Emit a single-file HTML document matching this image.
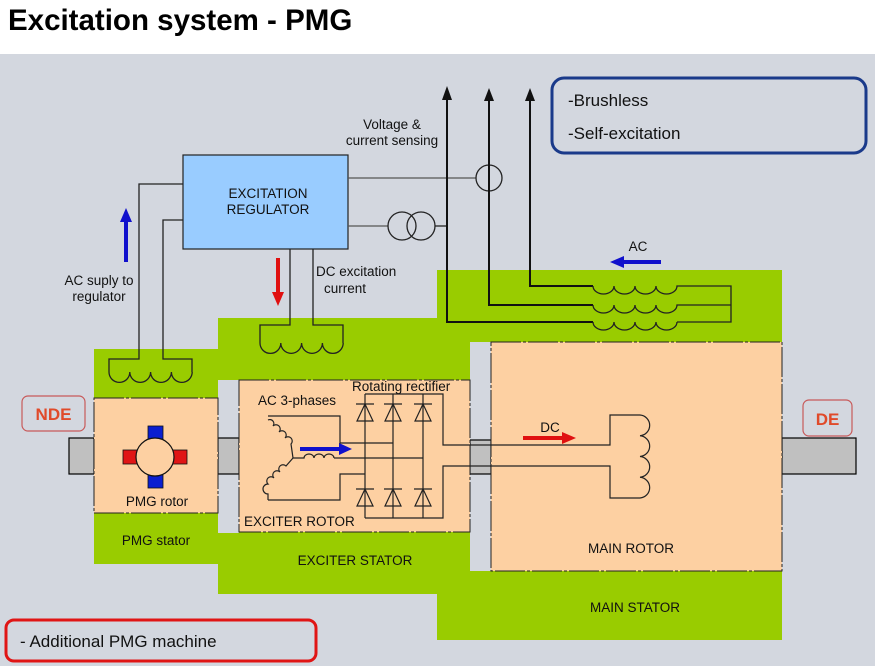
<!DOCTYPE html>
<html><head><meta charset="utf-8"><style>
html,body{margin:0;padding:0;background:#fff;}
svg{display:block;}
text{font-family:"Liberation Sans",Arial,sans-serif;}
</style></head><body>
<svg width="875" height="666" viewBox="0 0 875 666" xmlns="http://www.w3.org/2000/svg">
<rect x="0" y="0" width="875" height="666" fill="#fff"/>
<rect x="0" y="54" width="875" height="612" fill="#d3d7df"/>
<text x="8" y="30" font-size="29.5" font-weight="bold" fill="#000">Excitation system - PMG</text>

<!-- green stators -->
<rect x="94" y="349" width="124" height="215" fill="#99cc00"/>
<rect x="218" y="318" width="219" height="276" fill="#99cc00"/>
<rect x="437" y="270" width="345" height="370" fill="#99cc00"/>
<!-- gray gaps -->
<rect x="218" y="380" width="21" height="153" fill="#d3d7df"/>
<rect x="470" y="342" width="21" height="229" fill="#d3d7df"/>
<!-- shafts -->
<g fill="#c0c0c0" stroke="#000" stroke-width="1.2">
<rect x="69" y="438" width="25" height="36"/>
<rect x="218" y="438" width="21" height="36"/>
<rect x="470" y="440" width="21" height="34"/>
<rect x="782" y="438" width="74" height="36"/>
</g>
<!-- peach rotors -->
<g fill="#fdd0a2" stroke="#222" stroke-width="1" stroke-dasharray="30 2 3 2">
<rect x="94" y="398" width="124" height="115"/>
<rect x="239" y="380" width="231" height="152"/>
<rect x="491" y="342" width="291" height="229"/>
</g>

<!-- NDE / DE -->
<rect x="22" y="396" width="63" height="35" rx="6" fill="#d3d7df" stroke="#c85a5a" stroke-width="1.2"/>
<text x="53.5" y="420" font-size="17" font-weight="bold" fill="#e04a2a" text-anchor="middle">NDE</text>
<rect x="803" y="400" width="49" height="36" rx="6" fill="#d3d7df" stroke="#c85a5a" stroke-width="1.2"/>
<text x="827.5" y="425" font-size="17" font-weight="bold" fill="#e04a2a" text-anchor="middle">DE</text>

<!-- Regulator -->
<rect x="183" y="155" width="165" height="94" fill="#99ccff" stroke="#222" stroke-width="1.2"/>
<text x="268" y="198" font-size="13.5" text-anchor="middle" fill="#111">EXCITATION</text>
<text x="268" y="214" font-size="13.5" text-anchor="middle" fill="#111">REGULATOR</text>

<g fill="none" stroke="#222" stroke-width="1.3">
<polyline points="183,184 139,184 139,359 109,359 109,372"/>
<polyline points="183,220 163,220 163,359 192,359 192,372"/>
<path d="M109 372 a10.4 10.4 0 0 0 20.8 0 a10.4 10.4 0 0 0 20.8 0 a10.4 10.4 0 0 0 20.8 0 a10.4 10.4 0 0 0 20.8 0"/>
<polyline points="290,249 290,325 260,325 260,343"/>
<polyline points="313,249 313,325 343,325 343,343"/>
<path d="M260 343 a10.4 10.4 0 0 0 20.8 0 a10.4 10.4 0 0 0 20.8 0 a10.4 10.4 0 0 0 20.8 0 a10.4 10.4 0 0 0 20.8 0"/>
<line x1="348" y1="178" x2="476" y2="178" stroke="#555"/>
<circle cx="489" cy="178" r="13"/>
<line x1="348" y1="226" x2="388" y2="226" stroke="#555"/>
<circle cx="402" cy="226" r="14"/>
<circle cx="421" cy="226" r="14"/>
<line x1="435" y1="226" x2="447" y2="226"/>
</g>
<g fill="none" stroke="#111" stroke-width="2">
<polyline points="447,96 447,322 593,322"/>
<polyline points="489,98 489,305 593,305"/>
<polyline points="530,98 530,286 593,286"/>
</g>
<g fill="#111">
<polygon points="447,86 442,100 452,100"/>
<polygon points="489,88 484,101 494,101"/>
<polygon points="530,88 525,101 535,101"/>
</g>
<g fill="none" stroke="#222" stroke-width="1.3">
<path d="M593 286 a10.5 8 0 0 0 21 0 a10.5 8 0 0 0 21 0 a10.5 8 0 0 0 21 0 a10.5 8 0 0 0 21 0 L731 286 L731 322 L677 322"/>
<path d="M593 305 a10.5 8 0 0 0 21 0 a10.5 8 0 0 0 21 0 a10.5 8 0 0 0 21 0 a10.5 8 0 0 0 21 0 L731 305"/>
<path d="M593 322 a10.5 8 0 0 0 21 0 a10.5 8 0 0 0 21 0 a10.5 8 0 0 0 21 0 a10.5 8 0 0 0 21 0"/>
</g>

<!-- arrows -->
<line x1="126" y1="262" x2="126" y2="220" stroke="#1010cc" stroke-width="4"/>
<polygon points="126,208 120,222 132,222" fill="#1010cc"/>
<line x1="278" y1="258" x2="278" y2="293" stroke="#e01010" stroke-width="4"/>
<polygon points="278,306 272,292 284,292" fill="#e01010"/>
<line x1="661" y1="262" x2="622" y2="262" stroke="#1010cc" stroke-width="4"/>
<polygon points="610,262 624,256 624,268" fill="#1010cc"/>
<line x1="523" y1="438" x2="563" y2="438" stroke="#e01010" stroke-width="4"/>
<polygon points="576,438 562,432 562,444" fill="#e01010"/>
<line x1="300" y1="449" x2="340" y2="449" stroke="#1010cc" stroke-width="4"/>
<polygon points="352,449 339,443 339,455" fill="#1010cc"/>

<g font-size="13.5" fill="#111">
<text x="392" y="129" text-anchor="middle">Voltage &amp;</text>
<text x="392" y="145" text-anchor="middle">current sensing</text>
<text x="99" y="285" text-anchor="middle">AC suply to</text>
<text x="99" y="301" text-anchor="middle">regulator</text>
<text x="316" y="276">DC excitation</text>
<text x="345" y="293" text-anchor="middle">current</text>
<text x="638" y="251" text-anchor="middle">AC</text>
<text x="550" y="432" text-anchor="middle">DC</text>
<text x="157" y="506" text-anchor="middle">PMG rotor</text>
<text x="156" y="545" text-anchor="middle">PMG stator</text>
<text x="355" y="565" text-anchor="middle">EXCITER STATOR</text>
<text x="631" y="553" text-anchor="middle">MAIN ROTOR</text>
<text x="635" y="612" text-anchor="middle">MAIN STATOR</text>
<text x="244" y="526">EXCITER ROTOR</text>
<text x="258" y="405">AC 3-phases</text>
<text x="352" y="391">Rotating rectifier</text>
</g>

<rect x="148" y="426" width="15" height="13" fill="#0a1ed0" stroke="#111" stroke-width="0.8"/>
<rect x="148" y="475" width="15" height="13" fill="#0a1ed0" stroke="#111" stroke-width="0.8"/>
<rect x="123" y="450" width="14" height="14" fill="#e01515" stroke="#111" stroke-width="0.8"/>
<rect x="173" y="450" width="14" height="14" fill="#e01515" stroke="#111" stroke-width="0.8"/>
<circle cx="155" cy="457" r="19" fill="#fdd0a2" stroke="#111" stroke-width="1.2"/>

<g fill="none" stroke="#222" stroke-width="1.2">
<polyline points="268,416 340,416 340,443 393,443"/>
<polyline points="268,500 340,500 340,474 365,474"/>
<polyline points="334,458 423,458"/>
<path d="M268 420 a4 4 0 0 1 5 6 a4 4 0 0 1 6 6 a4 4 0 0 1 6 6 a4 4 0 0 1 6 6 L293 458"/>
<path d="M293 458 L286 466 a4 4 0 0 0 -6 6 a4 4 0 0 0 -6 6 a4 4 0 0 0 -6 6 a4 4 0 0 0 0 10 L268 500"/>
<path d="M293 458 L304 458 a5 4 0 0 1 10 0 a5 4 0 0 1 10 0 a5 4 0 0 1 10 0"/>
<line x1="365" y1="394" x2="365" y2="518"/>
<line x1="393" y1="394" x2="393" y2="518"/>
<line x1="423" y1="394" x2="423" y2="518"/>
<polyline points="365,394 443,394 443,445 610,445 610,415 640,415"/>
<polyline points="365,518 443,518 443,466 610,466 610,498 640,498"/>
<path d="M640 415 a10.4 10.4 0 0 1 0 20.75 a10.4 10.4 0 0 1 0 20.75 a10.4 10.4 0 0 1 0 20.75 a10.4 10.4 0 0 1 0 20.75"/>
<g>
<line x1="356" y1="404" x2="374" y2="404"/><polygon points="365,404 357,421 373,421"/>
<line x1="384" y1="404" x2="402" y2="404"/><polygon points="393,404 385,421 401,421"/>
<line x1="414" y1="404" x2="432" y2="404"/><polygon points="423,404 415,421 431,421"/>
<line x1="356" y1="489" x2="374" y2="489"/><polygon points="365,489 357,506 373,506"/>
<line x1="384" y1="489" x2="402" y2="489"/><polygon points="393,489 385,506 401,506"/>
<line x1="414" y1="489" x2="432" y2="489"/><polygon points="423,489 415,506 431,506"/>
</g>
</g>

<rect x="552" y="78" width="314" height="75" rx="12" fill="#d3d7df" stroke="#1a3a8a" stroke-width="3"/>
<text x="568" y="106" font-size="17" fill="#111">-Brushless</text>
<text x="568" y="139" font-size="17" fill="#111">-Self-excitation</text>
<rect x="6" y="620" width="310" height="41" rx="8" fill="#d3d7df" stroke="#e01515" stroke-width="3"/>
<text x="20" y="647" font-size="17" fill="#111">- Additional PMG machine</text>
</svg>
</body></html>
